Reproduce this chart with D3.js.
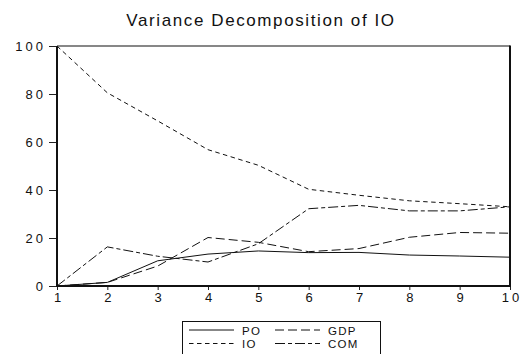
<!DOCTYPE html>
<html>
<head>
<meta charset="utf-8">
<script src="https://cdn.jsdelivr.net/npm/d3@7"></script>
<style>
  html, body { margin: 0; padding: 0; background: #fff; }
  svg { display: block; font-family: "Liberation Sans", Arial, sans-serif; }
</style>
</head>
<body>
<svg id="chart" width="522" height="354"></svg>
<script>
// Forecast horizon (periods)
const periods = [1, 2, 3, 4, 5, 6, 7, 8, 9, 10];

// Share of the forecast-error variance of IO explained by each shock (%)
const poValues  = [0, 1.5, 10.5, 13.3, 14.6, 13.9, 14.0, 12.9, 12.5, 12.0];
const gdpValues = [0, 1.5, 8.3, 20.2, 18.2, 14.3, 15.6, 20.3, 22.3, 22.0];
const ioValues  = [100, 80.5, 68.8, 56.8, 50.3, 40.3, 37.8, 35.5, 34.3, 33.0];
const comValues = [0, 16.3, 12.4, 10.0, 17.6, 32.2, 33.6, 31.3, 31.3, 33.0];

const seriesNames = ["PO", "GDP", "IO", "COM"];
const yTickValues = [0, 20, 40, 60, 80, 100];
const titleText = "Variance Decomposition of IO";

const dashes = { PO: null, GDP: "9,4", IO: "4.5,3.5", COM: "10,3,4,3" };

const series = [
  { name: "PO", values: poValues },
  { name: "GDP", values: gdpValues },
  { name: "IO", values: ioValues },
  { name: "COM", values: comValues }
];

const svg = d3.select("#chart");
const margin = { left: 57, right: 12, top: 46, bottom: 68 };
const W = 522, H = 354;

const x = d3.scaleLinear().domain([1, 10]).range([margin.left, W - margin.right]);
const y = d3.scaleLinear().domain([0, 100]).range([H - margin.bottom, margin.top]);

// Title
svg.append("text")
  .attr("x", 261)
  .attr("y", 26)
  .attr("text-anchor", "middle")
  .attr("font-size", 17)
  .attr("letter-spacing", "1.6px")
  .attr("fill", "#111")
  .text(titleText);

// Axes
const yAxis = d3.axisLeft(y).tickValues(yTickValues).tickSize(8).tickPadding(3);
const xAxis = d3.axisBottom(x).tickValues(periods).tickSize(4).tickPadding(3).tickFormat(d3.format("d"));

const gy = svg.append("g").attr("transform", `translate(${margin.left},0)`).call(yAxis);
const gx = svg.append("g").attr("transform", `translate(0,${H - margin.bottom})`).call(xAxis);
[gx, gy].forEach(g => {
  g.select(".domain").remove();
  g.selectAll(".tick line").attr("stroke", "#222").attr("stroke-width", 1);
  g.selectAll(".tick text")
    .attr("font-size", 13)
    .attr("letter-spacing", "3px")
    .attr("fill", "#111")
    .attr("font-family", "'Liberation Sans', Arial, sans-serif");
});
gx.selectAll(".tick text").attr("dx", "1.5px");

// Series lines
const line = d3.line().x((d, i) => x(periods[i])).y(d => y(d));
svg.append("g").selectAll("path")
  .data(series)
  .join("path")
  .attr("d", d => line(d.values))
  .attr("fill", "none")
  .attr("stroke", "#111")
  .attr("stroke-width", 1)
  .attr("stroke-dasharray", d => dashes[d.name]);

// Plot frame
const x0 = x.range()[0], x1 = x.range()[1], y0 = y.range()[0], y1 = y.range()[1];
svg.append("line").attr("x1", x0).attr("x2", x1).attr("y1", y1).attr("y2", y1)
  .attr("stroke", "#111").attr("stroke-width", 1.2);
svg.append("line").attr("x1", x0).attr("x2", x0).attr("y1", y1).attr("y2", y0)
  .attr("stroke", "#111").attr("stroke-width", 2);
svg.append("line").attr("x1", x1).attr("x2", x1).attr("y1", y1 - 0.6).attr("y2", y0 + 1)
  .attr("stroke", "#111").attr("stroke-width", 2);
svg.append("line").attr("x1", x0 - 1).attr("x2", x1 + 1).attr("y1", y0).attr("y2", y0)
  .attr("stroke", "#111").attr("stroke-width", 2);

// Legend
const legend = svg.append("g");
legend.append("rect")
  .attr("x", 182.5).attr("y", 321.5).attr("width", 198).attr("height", 40)
  .attr("fill", "#fff").attr("stroke", "#111").attr("stroke-width", 1);
const legendItems = [
  { name: "PO", col: 0, row: 0 },
  { name: "GDP", col: 1, row: 0 },
  { name: "IO", col: 0, row: 1 },
  { name: "COM", col: 1, row: 1 }
];
const colX = [189, 275], rowY = [330, 343.5];
legendItems.forEach(it => {
  const lx = colX[it.col], ly = rowY[it.row];
  legend.append("line")
    .attr("x1", lx).attr("x2", lx + 45).attr("y1", ly).attr("y2", ly)
    .attr("stroke", "#111").attr("stroke-width", 1)
    .attr("stroke-dasharray", dashes[it.name]);
  legend.append("text")
    .attr("x", lx + 53).attr("y", ly + 4.5)
    .attr("font-size", 11.5)
    .attr("letter-spacing", "1.3px")
    .attr("fill", "#111")
    .text(it.name);
});
</script>
</body>
</html>
